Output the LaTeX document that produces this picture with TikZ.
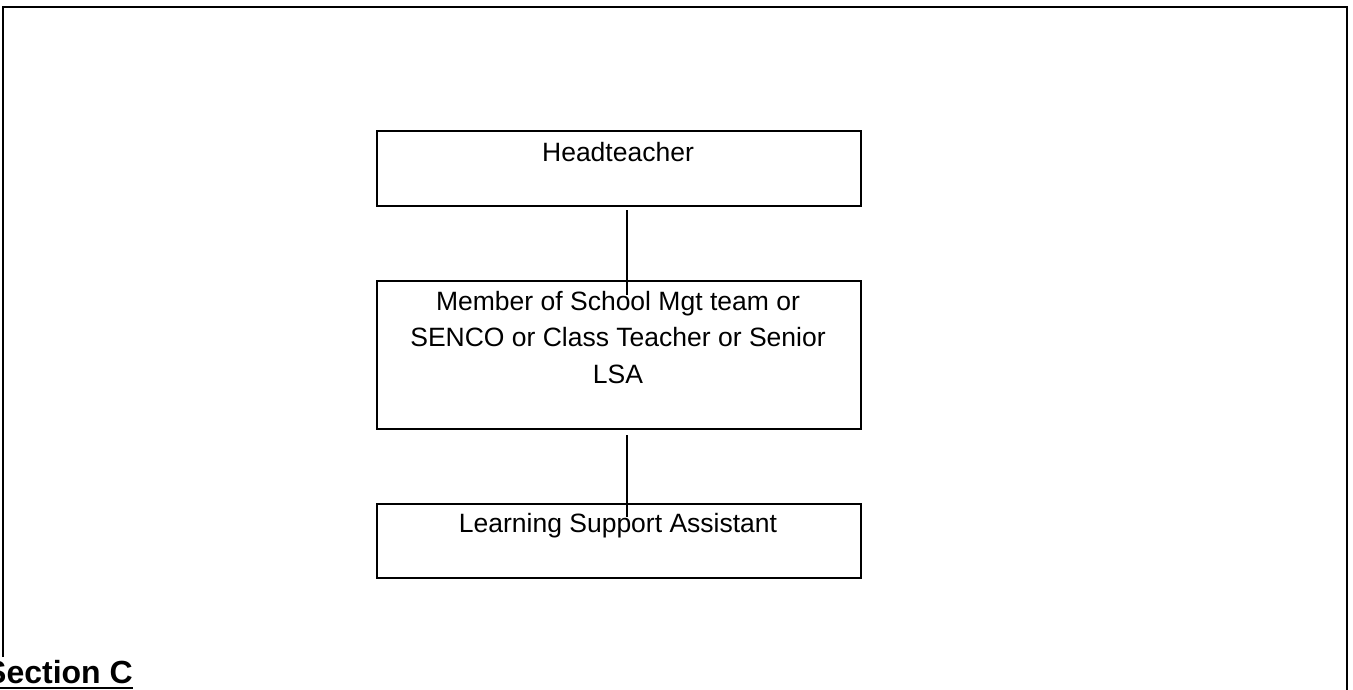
\documentclass[tikz,border=0pt]{standalone}
\usepackage{fontspec}
\setmainfont{Liberation Sans}
\begin{document}
\begin{tikzpicture}[x=1pt,y=-1pt,
  orgbox/.style={draw=black,line width=2pt,minimum width=484pt,inner sep=0pt,anchor=north west},
  orgtext/.style={font=\fontsize{26.5}{36.5}\selectfont,align=center,inner sep=0pt},
  link/.style={draw=black,line width=1.3pt}]
\useasboundingbox (0,0) rectangle (1353,689);
% outer frame
\coordinate (fl) at (3,657);
\coordinate (ftl) at (3,7);
\coordinate (ftr) at (1347,7);
\coordinate (fr) at (1347,695);
\draw[line width=2pt] (fl) -- (ftl) -- (ftr) -- (fr);
% boxes
\node[orgbox,minimum height=75pt] (head) at (376,130) {};
\node[orgbox,minimum height=148pt] (mem) at (376,280) {};
\node[orgbox,minimum height=74pt] (lsa) at (376,503) {};
% texts
\node[orgtext,anchor=base] (headt) at (618,161) {Headteacher};
\node[orgtext,anchor=north] (memt) at (618,291) {Member of School Mgt team or\\SENCO or Class Teacher or Senior\\LSA};
\node[orgtext,anchor=base] (lsat) at (618,532) {Learning Support Assistant};
% connectors
\draw[link] ([xshift=8pt,yshift=-3pt]head.south) -- ([xshift=8pt,yshift=-15pt]mem.north);
\draw[link] ([xshift=8pt,yshift=-5pt]mem.south) -- ([xshift=8pt,yshift=-14pt]lsa.north);
% section heading
\node[font=\fontsize{32}{38}\selectfont\bfseries,anchor=base west,inner sep=0pt] (sec) at (-15,683) {Section C};
\draw[line width=2.5pt] (sec.base west) ++(0,5) coordinate (ul) -- ([yshift=-5pt]sec.base east);
\end{tikzpicture}
\end{document}
